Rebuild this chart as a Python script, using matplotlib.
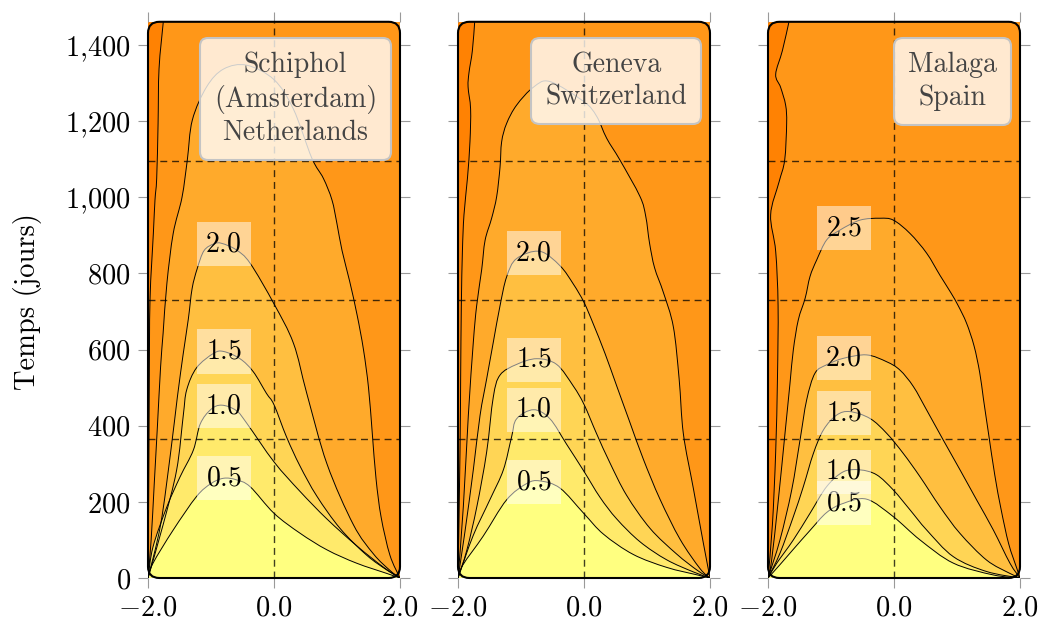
import numpy as np
import matplotlib
matplotlib.use("Agg")
import matplotlib.pyplot as plt
from matplotlib.path import Path
from matplotlib.patches import PathPatch, FancyBboxPatch
from matplotlib.offsetbox import AnchoredText

plt.rcParams['font.family'] = 'cmr10'
plt.rcParams['mathtext.fontset'] = 'cm'
plt.rcParams['axes.formatter.use_mathtext'] = True

# ---------------- data ----------------
x_ticks = [-2.0, 0.0, 2.0]
x_tick_labels = [r'$-2.0$', r'$0.0$', r'$2.0$']
y_ticks = [0, 200, 400, 600, 800, 1000, 1200, 1400]
y_tick_labels = [r'$0$', r'$200$', r'$400$', r'$600$', r'$800$',
                 r'$1{,}000$', r'$1{,}200$', r'$1{,}400$']
year_lines = [365, 730, 1095]
t_max = 1461
y_label = 'Temps (jours)'

levels = [0.5, 1.0, 1.5, 2.0, 2.5, 3.0]
band_colors = ['#FFFF80', '#FFEA6B', '#FFD555', '#FFBF40',
               '#FFAA2B', '#FF9718', '#FF8203']

station_names = ["Schiphol\n(Amsterdam)\nNetherlands",
                 "Geneva\nSwitzerland",
                 "Malaga\nSpain"]

# contour lines: level -> (x values, time values in days)
schiphol_curves = {
    0.5: ([-2, -1.92, -1.6, -1.23, -1.0, -0.8, -0.6, -0.38, 0, 0.41, 0.84, 1.31, 1.79, 2],
          [0, 39, 126, 214, 248, 262, 258, 240, 170, 118, 74, 39, 12, 0]),
    1.0: ([-2, -1.92, -1.7, -1.49, -1.28, -1.17, -1.0, -0.83, -0.6, -0.43, 0, 0.41, 0.84, 1.31, 1.74, 2],
          [0, 82, 187, 266, 336, 405, 443, 454, 440, 406, 305, 228, 155, 85, 28, 0]),
    1.5: ([-2, -1.76, -1.545, -1.44, -1.386, -1.23, -0.96, -0.8, -0.54, -0.33, -0.12, 0, 0.2, 0.41, 0.68, 1.05, 1.47, 1.8, 2],
          [0, 140, 284, 427, 494, 552, 590, 595, 576, 542, 485, 455, 370, 295, 215, 130, 60, 20, 0]),
    2.0: ([-2, -1.8, -1.64, -1.534, -1.44, -1.36, -1.3, -1.22, -1.11, -0.95, -0.83, -0.6, -0.38, 0, 0.31, 0.52, 0.84, 1.26, 1.58, 1.84, 2],
          [0, 140, 331, 475, 590, 680, 760, 812, 860, 878, 879, 862, 827, 720, 616, 485, 300, 140, 63, 20, 0]),
    2.5: ([-2, -1.95, -1.9, -1.85, -1.8, -1.76, -1.70, -1.6, -1.46, -1.376, -1.296, -1.07, -0.8, -0.434, 0, 0.307, 0.6, 0.783, 0.92, 1.0, 1.08, 1.2, 1.32, 1.42, 1.5, 1.56, 1.62, 1.7, 1.84, 2],
          [0, 100, 250, 400, 555, 643, 774, 905, 1000, 1098, 1203, 1290, 1337, 1347, 1309, 1232, 1103, 1050, 993, 930, 860, 780, 690, 600, 500, 380, 260, 160, 60, 0]),
    3.0: ([-2, -1.99, -1.98, -1.968, -1.915, -1.889, -1.862, -1.84, -1.825, -1.757],
          [0, 200, 500, 730, 905, 993, 1050, 1194, 1337, 1461]),
}

geneva_curves = {
    0.5: ([-2, -1.92, -1.6, -1.23, -0.91, -0.7, -0.38, 0, 0.31, 0.78, 1.31, 1.8, 2],
          [0, 35, 110, 205, 248, 255, 236, 169, 115, 62, 28, 8, 0]),
    1.0: ([-2, -1.76, -1.49, -1.28, -1.15, -1.07, -0.8, -0.54, -0.275, 0, 0.254, 0.52, 0.89, 1.31, 1.735, 2],
          [0, 111, 207, 284, 370, 418, 442, 418, 351, 280, 212, 155, 95, 48, 16, 0]),
    1.5: ([-2, -1.86, -1.70, -1.545, -1.44, -1.333, -1.07, -0.75, -0.434, -0.169, 0, 0.2, 0.41, 0.677, 1.05, 1.47, 1.8, 2],
          [0, 73, 188, 331, 475, 533, 561, 576, 561, 504, 456, 379, 303, 217, 130, 63, 20, 0]),
    2.0: ([-2, -1.89, -1.757, -1.65, -1.545, -1.44, -1.333, -1.228, -1.07, -0.7, -0.38, -0.169, 0, 0.148, 0.333, 0.52, 0.73, 0.942, 1.206, 1.524, 1.84, 2],
          [0, 121, 284, 427, 523, 619, 715, 791, 839, 858, 820, 772, 724, 667, 590, 504, 408, 312, 207, 102, 25, 0]),
    2.5: ([-2, -1.915, -1.836, -1.757, -1.704, -1.624, -1.57, -1.466, -1.386, -1.333, -1.307, -1.228, -1.07, -0.804, -0.54, 0, 0.2, 0.36, 0.57, 0.889, 0.98, 1.04, 1.12, 1.26, 1.418, 1.51, 1.577, 1.735, 1.894, 2],
          [0, 188, 427, 619, 715, 810, 887, 945, 1002, 1079, 1146, 1194, 1242, 1289, 1304, 1251, 1213, 1155, 1098, 1002, 950, 880, 815, 750, 660, 523, 379, 236, 92, 0]),
    3.0: ([-2, -1.968, -1.958, -1.947, -1.93, -1.905, -1.85, -1.81, -1.80, -1.84, -1.825, -1.772, -1.735],
          [0, 331, 523, 715, 858, 954, 1050, 1146, 1232, 1290, 1328, 1385, 1461]),
}

malaga_curves = {
    0.5: ([-2, -1.81, -1.6, -1.333, -1.069, -0.804, -0.434, -0.01, 0.413, 0.942, 1.577, 2],
          [0, 35, 75, 125, 172, 196, 207, 161, 100, 39, 8, 0]),
    1.0: ([-2, -1.86, -1.598, -1.333, -1.069, -0.804, -0.54, -0.275, -0.01, 0.254, 0.519, 0.942, 1.47, 2],
          [0, 39, 100, 170, 240, 279, 284, 271, 231, 179, 126, 56, 17, 0]),
    1.5: ([-2, -1.81, -1.598, -1.439, -1.28, -1.12, -0.91, -0.698, -0.381, -0.116, 0.148, 0.413, 0.73, 1.048, 1.47, 1.84, 2],
          [0, 65, 161, 240, 327, 389, 428, 437, 419, 380, 327, 266, 187, 117, 47, 12, 0]),
    2.0: ([-2, -1.81, -1.624, -1.492, -1.386, -1.254, -1.069, -0.804, -0.434, -0.116, 0.095, 0.307, 0.519, 0.783, 1.048, 1.312, 1.577, 1.84, 2],
          [0, 100, 231, 362, 468, 538, 560, 577, 586, 568, 546, 503, 441, 362, 284, 205, 126, 39, 0]),
    2.5: ([-2, -1.942, -1.836, -1.73, -1.651, -1.598, -1.519, -1.41, -1.333, -1.228, -1.069, -0.857, -0.54, -0.222, -0.01, 0.254, 0.519, 0.73, 0.9, 1.02, 1.15, 1.27, 1.36, 1.42, 1.5, 1.6, 1.7, 1.82, 1.95, 2],
          [0, 47, 205, 380, 511, 599, 678, 735, 792, 835, 888, 914, 940, 945, 940, 905, 853, 795, 750, 715, 670, 610, 540, 470, 380, 270, 180, 90, 25, 0]),
    3.0: ([-2, -1.93, -1.878, -1.85, -1.84, -1.878, -1.958, -1.825, -1.735, -1.704, -1.72, -1.8, -1.878, -1.772, -1.667],
          [0, 140, 331, 523, 715, 858, 954, 1040, 1098, 1194, 1242, 1289, 1323, 1385, 1461]),
}

station_curves = [schiphol_curves, geneva_curves, malaga_curves]
labeled_levels = [[0.5, 1.0, 1.5, 2.0], [0.5, 1.0, 1.5, 2.0], [0.5, 1.0, 1.5, 2.0, 2.5]]
label_x = -0.8

# ---------------- helpers ----------------
def smooth(xs, ys):
    P = np.column_stack([xs, ys]).astype(float)
    n = len(P)
    verts = [P[0]]
    codes = [Path.MOVETO]
    for i in range(n - 1):
        p0 = P[i - 1] if i > 0 else P[i]
        p1 = P[i]
        p2 = P[i + 1]
        p3 = P[i + 2] if i + 2 < n else P[i + 1]
        verts += [p1 + (p2 - p0) / 6.0, p2 - (p3 - p1) / 6.0, p2]
        codes += [Path.CURVE4] * 3
    return verts, codes

# ---------------- figure ----------------
W, H = 1043, 626
fig = plt.figure(figsize=(W / 100, H / 100), dpi=100)
lefts = [148, 458, 768]
ax_w, ax_h = 252, 556.2
bottom = 48

for i, (curves, name) in enumerate(zip(station_curves, station_names)):
    ax = fig.add_axes([lefts[i] / W, bottom / H, ax_w / W, ax_h / H])
    ax.set_xlim(-2, 2)
    ax.set_ylim(0, t_max)
    ax.set_facecolor(band_colors[-1])
    for s in ax.spines.values():
        s.set_visible(False)

    # filled bands (outermost first)
    for k in range(len(levels) - 1, -1, -1):
        xs, ys = curves[levels[k]]
        v, c = smooth(xs, ys)
        v = v + [(2.0, ys[-1]), (2.0, 0.0), (xs[0], 0.0), (xs[0], 0.0)]
        c = c + [Path.LINETO, Path.LINETO, Path.LINETO, Path.CLOSEPOLY]
        ax.add_patch(PathPatch(Path(v, c), facecolor=band_colors[k],
                               edgecolor='none', zorder=1))
    # contour lines
    for lev in levels:
        xs, ys = curves[lev]
        v, c = smooth(xs, ys)
        ax.add_patch(PathPatch(Path(v, c), facecolor='none',
                               edgecolor='black', lw=0.7, zorder=2))

    # year grid
    for yl in year_lines:
        ax.axhline(yl, color='black', lw=1.0, alpha=0.75, dashes=(5, 3.5), zorder=3)
    ax.axvline(0, color='black', lw=1.0, alpha=0.75, dashes=(5, 3.5), zorder=3)

    # contour labels
    for lev in labeled_levels[i]:
        xs, ys = curves[lev]
        ly = np.interp(label_x, xs, ys)
        ax.text(label_x, ly, f'${lev:.1f}$', ha='center', va='center',
                fontsize=20, color='black', zorder=4,
                bbox=dict(boxstyle='square,pad=0.32', fc='white', ec='none', alpha=0.5))

    # station box
    at = AnchoredText(name, loc='upper right',
                      bbox_to_anchor=(1 - 9 / ax_w, 1 - 16 / ax_h),
                      bbox_transform=ax.transAxes, borderpad=0, pad=0.5,
                      prop=dict(size=20, color='#444444', ha='center',
                                multialignment='center', linespacing=1.3),
                      frameon=True)
    at.patch.set_boxstyle('round,pad=0.,rounding_size=0.3')
    at.patch.set_facecolor((1, 1, 1, 0.8))
    at.patch.set_edgecolor('#c4c4c4')
    at.patch.set_linewidth(1.5)
    at.zorder = 6
    ax.add_artist(at)

    # rounded frame
    frame = FancyBboxPatch((0, 0), 1, 1, boxstyle='round,pad=0,rounding_size=0.045',
                           transform=ax.transAxes, fill=False, ec='black', lw=1.5,
                           mutation_aspect=ax_w / ax_h, clip_on=False, zorder=7)
    ax.add_patch(frame)

    ax.set_xticks(x_ticks)
    ax.set_xticklabels(x_tick_labels)
    ax.set_yticks(y_ticks)
    ax.set_yticklabels(y_tick_labels)
    ax.tick_params(direction='out', length=7.5, width=0.8, color='#9a9a9a',
                   top=True, right=True, labelsize=20.5, pad=5)
    if i > 0:
        ax.tick_params(labelleft=False)

fig.text(28 / W, (H - 302) / H, y_label, rotation=90, ha='center', va='center', fontsize=20.5)

fig.savefig('out.png', dpi=100)
